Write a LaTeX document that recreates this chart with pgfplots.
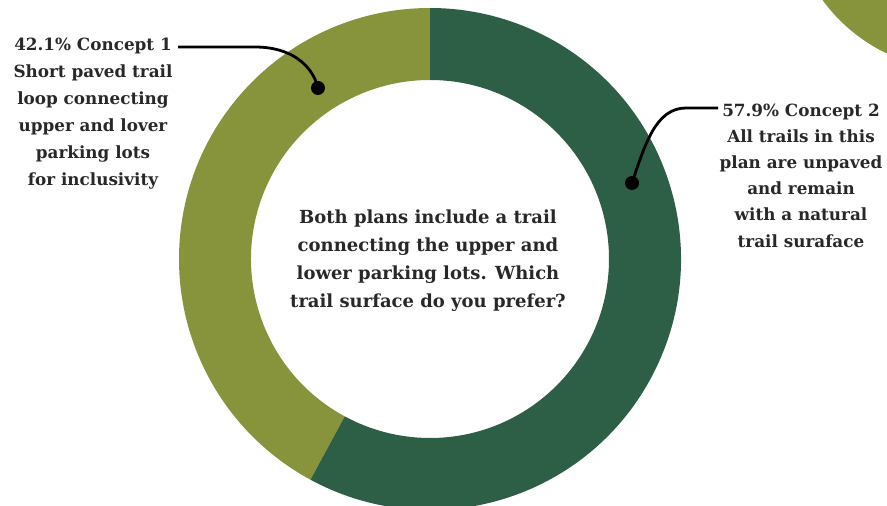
\documentclass[border=0pt]{standalone}
\usepackage{pgfplots}
\pgfplotsset{compat=1.18}
\usepackage{fontspec}
\setmainfont{DejaVu Serif}
\definecolor{olive}{RGB}{135,148,60}
\definecolor{forest}{RGB}{45,94,70}
\definecolor{txt}{RGB}{40,40,40}

% survey shares (percent)
\def\shareA{42.1}  % Concept 1
\def\shareB{57.9}  % Concept 2

\begin{document}
\begin{tikzpicture}
\begin{axis}[
    width=887pt, height=506pt, scale only axis,
    xmin=0, xmax=887, ymin=0, ymax=506,
    hide axis,
]
\coordinate (sw) at (axis cs:0,0);
\coordinate (ne) at (axis cs:887,506);
\clip (axis cs:0,0) rectangle (axis cs:887,506);
% donut geometry (axis units = pt)
\pgfmathsetmacro{\cx}{430}
\pgfmathsetmacro{\cy}{247}
\pgfmathsetmacro{\R}{251}
\pgfmathsetmacro{\r}{179}
\pgfmathsetmacro{\aA}{90}
\pgfmathsetmacro{\aB}{90+3.6*\shareA}
\pgfmathsetmacro{\aC}{\aB+3.6*\shareB}

% decorative circle top right
\fill[olive] (axis cs:960,606) circle[radius=170pt];

% Concept 1 slice
\fill[olive] (axis cs:{\cx+\R*cos(\aA)},{\cy+\R*sin(\aA)})
    arc[start angle=\aA, end angle=\aB, radius=\R pt]
    -- (axis cs:{\cx+\r*cos(\aB)},{\cy+\r*sin(\aB)})
    arc[start angle=\aB, end angle=\aA, radius=\r pt] -- cycle;
% Concept 2 slice
\fill[forest] (axis cs:{\cx+\R*cos(\aB)},{\cy+\R*sin(\aB)})
    arc[start angle=\aB, end angle=\aC, radius=\R pt]
    -- (axis cs:{\cx+\r*cos(\aC)},{\cy+\r*sin(\aC)})
    arc[start angle=\aC, end angle=\aB, radius=\r pt] -- cycle;

% leader lines
\draw[line width=2.8pt, black] (axis cs:178,459) -- (axis cs:255,459)
    .. controls (axis cs:290,459) and (axis cs:312,442) .. (axis cs:318,418);
\fill (axis cs:318,418) circle[radius=7pt];
\draw[line width=2.8pt, black] (axis cs:632,323)
    .. controls (axis cs:645,362) and (axis cs:656,398) .. (axis cs:686,398) -- (axis cs:718,398);
\fill (axis cs:632,323) circle[radius=7pt];

% labels
\node[align=center, text=txt, font=\bfseries\fontsize{16.8}{27}\selectfont]
    at (axis cs:93,392.5) {\shareA\% Concept 1\\Short paved trail\\loop connecting\\upper and lover\\parking lots\\for inclusivity};
\node[align=center, text=txt, font=\bfseries\fontsize{16.8}{26.2}\selectfont]
    at (axis cs:801,330.5) {\shareB\% Concept 2\\All trails in this\\plan are unpaved\\and remain\\with a natural\\trail suraface};
\node[align=center, text=txt, font=\bfseries\fontsize{18}{28}\selectfont]
    at (axis cs:428,245) {Both plans include a trail\\connecting the upper and\\lower parking lots. Which\\trail surface do you prefer?};
\end{axis}
\pgfresetboundingbox
\useasboundingbox (sw) rectangle (ne);
\end{tikzpicture}
\end{document}
